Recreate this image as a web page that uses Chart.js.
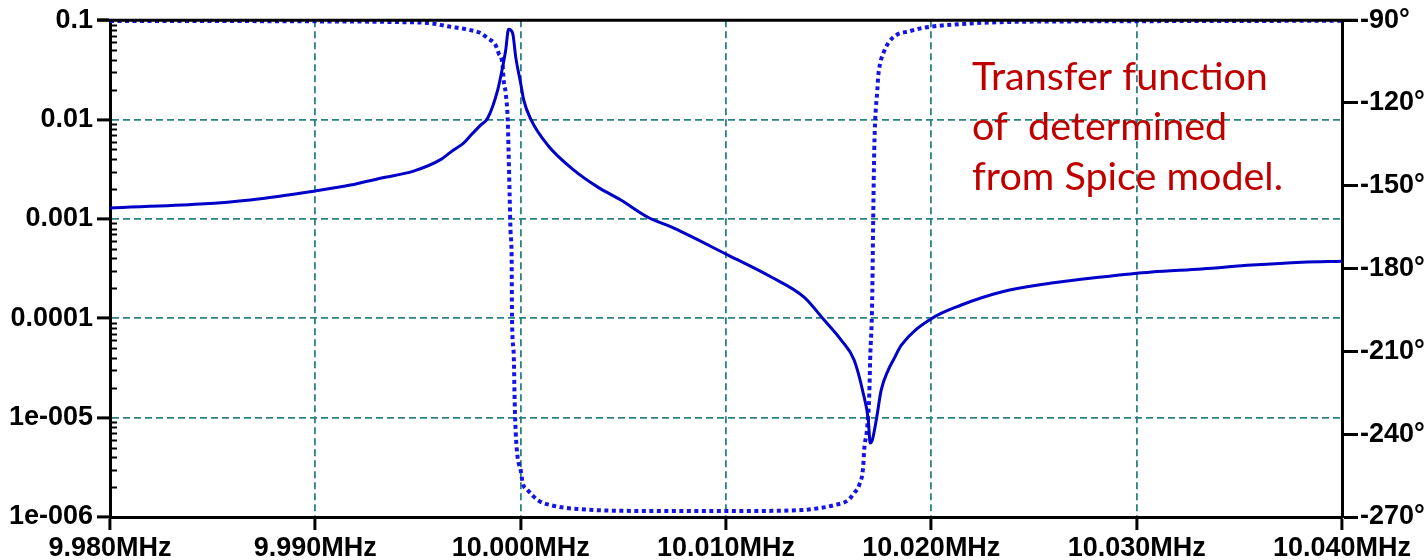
<!DOCTYPE html>
<html>
<head>
<meta charset="utf-8">
<script src="https://cdn.jsdelivr.net/npm/chart.js@4.4.0/dist/chart.umd.min.js"></script>
<style>
	html, body { margin: 0; padding: 0; background: #fff; }
	canvas { display: block; }
</style>
</head>
<body>
<canvas id="chart" width="1428" height="560"></canvas>
<script>
// magnitude trace (solid)
const mag_freq = [
	9.98000, 9.98439, 9.98683, 9.99000, 9.99171, 9.99317, 9.99478, 9.99610, 9.99673, 9.99722,
	9.99756, 9.99805, 9.99839, 9.99888, 9.99912, 9.99927, 9.99941, 9.99961, 9.99976, 10.00000,
	10.00015, 10.00049, 10.00132, 10.00259, 10.00376, 10.00488, 10.00620, 10.00746, 10.01010, 10.01220,
	10.01380, 10.01478, 10.01561, 10.01624, 10.01668, 10.01693, 10.01702, 10.01712, 10.01732, 10.01756,
	10.01790, 10.01815, 10.01854, 10.02000, 10.02146, 10.02341, 10.02585, 10.02829, 10.03073, 10.03317,
	10.03561, 10.03805, 10.04000
];
const mag_values = [
	1.29e-3, 1.41e-3, 1.55e-3, 1.91e-3, 2.19e-3, 2.57e-3, 3.03e-3, 3.95e-3, 4.95e-3, 5.79e-3,
	6.9e-3, 8.79e-3, 1.03e-2, 1.98e-2, 3.37e-2, 4.99e-2, 8.1e-2, 7.4e-2, 4.25e-2, 2.32e-2,
	1.57e-2, 1.01e-2, 5.52e-3, 3.10e-3, 2.09e-3, 1.55e-3, 1.04e-3, 8.07e-4, 4.32e-4, 2.60e-4,
	1.63e-4, 9.6e-5, 6.04e-5, 3.80e-5, 1.77e-5, 9.5e-6, 5.55e-6, 5.9e-6, 9.5e-6, 1.90e-5,
	3.01e-5, 3.80e-5, 5.37e-5, 9.9e-5, 1.36e-4, 1.84e-4, 2.26e-4, 2.60e-4, 2.92e-4, 3.13e-4,
	3.43e-4, 3.67e-4, 3.76e-4
];

// phase trace (dotted), degrees
const phase_freq = [
	9.98000, 9.98927, 9.99415, 9.99561, 9.99644, 9.99756, 9.99805, 9.99839, 9.99878, 9.99893,
	9.99912, 9.99917, 9.99927, 9.99937, 9.99941, 9.99946, 9.99951, 9.99956, 9.99958, 9.99966,
	9.99971, 9.99976, 9.99985, 10.00000, 10.00010, 10.00034, 10.00083, 10.00146, 10.00278, 10.00634,
	10.01122, 10.01366, 10.01463, 10.01527, 10.01595, 10.01624, 10.01649, 10.01668, 10.01673, 10.01688,
	10.01698, 10.01702, 10.01712, 10.01717, 10.01722, 10.01727, 10.01737, 10.01741, 10.01751, 10.01766,
	10.01790, 10.01829, 10.01893, 10.01951, 10.02015, 10.02341, 10.02829, 10.04000
];
const phase_values = [
	-90.25, -90.4, -90.7, -91.1, -92.2, -93.6, -94.7, -96.5, -99.1, -102.0,
	-106.3, -111.7, -116.4, -126.2, -137.1, -152.7, -167.1, -175.8, -198.7, -210.6,
	-228.7, -239.6, -248.3, -253.0, -257.7, -260.2, -263.9, -265.7, -267.1, -267.8,
	-267.8, -267.5, -266.7, -265.7, -263.9, -261.3, -258.4, -251.9, -245.7, -237.4,
	-225.1, -213.1, -191.4, -161.4, -137.1, -125.5, -115.4, -110.6, -105.6, -102.0,
	-98.3, -95.4, -94.0, -92.9, -92.2, -90.7, -90.4, -90.2
];

const x_ticks = [9.98, 9.99, 10.00, 10.01, 10.02, 10.03, 10.04];
const x_tick_labels = ["9.980MHz", "9.990MHz", "10.000MHz", "10.010MHz", "10.020MHz", "10.030MHz", "10.040MHz"];
const mag_ticks = [1e-6, 1e-5, 1e-4, 1e-3, 1e-2, 1e-1];
const mag_tick_labels = ["1e-006", "1e-005", "0.0001", "0.001", "0.01", "0.1"];
const phase_ticks = [-270, -240, -210, -180, -150, -120, -90];
const phase_tick_labels = ["-270°", "-240°", "-210°", "-180°", "-150°", "-120°", "-90°"];
const note_lines = ["Transfer function", "of  determined", "from Spice model."];

const axis_font = { family: "'Liberation Sans', Arial, sans-serif", size: 27, weight: "bold" };
const grid_teal = "#2a8282";

const to_points = (xs, ys) => xs.map((x, i) => ({ x: x, y: ys[i] }));
const set_ticks = (values) => (scale) => { scale.ticks = values.map(v => ({ value: v })); };

// frame top, minor log ticks and the red note
const extras = {
	id: "extras",
	afterDraw(chart) {
		const { ctx, chartArea: a, scales } = chart;
		ctx.save();
		ctx.strokeStyle = "#000";
		ctx.lineWidth = 3;
		ctx.beginPath();
		ctx.moveTo(a.left - 13, a.top);
		ctx.lineTo(a.right + 16, a.top);
		ctx.stroke();

		ctx.lineWidth = 2;
		mag_ticks.slice(0, -1).forEach(decade => {
			for (let m = 2; m <= 9; m++) {
				const py = Math.round(scales.mag.getPixelForValue(decade * m)) + 0.5;
				ctx.beginPath();
				ctx.moveTo(a.left, py);
				ctx.lineTo(a.left + 7, py);
				ctx.stroke();
			}
		});

		ctx.fillStyle = "#c00000";
		ctx.font = "39.5px Lato, 'Open Sans', sans-serif";
		ctx.textBaseline = "alphabetic";
		note_lines.forEach((t, i) => ctx.fillText(t, 972, 90 + i * 50));
		ctx.restore();
	}
};

const ctx = document.getElementById("chart");
new Chart(ctx, {
	type: "scatter",
	data: {
		datasets: [
			{
				label: "magnitude",
				data: to_points(mag_freq, mag_values),
				yAxisID: "mag",
				showLine: true,
				borderColor: "#0000c8",
				borderWidth: 3,
				pointRadius: 0,
				cubicInterpolationMode: "monotone"
			},
			{
				label: "phase",
				data: to_points(phase_freq, phase_values),
				yAxisID: "phase",
				showLine: true,
				borderColor: "#1414e6",
				borderWidth: 4,
				borderDash: [4, 3.5],
				pointRadius: 0,
				cubicInterpolationMode: "monotone"
			}
		]
	},
	options: {
		responsive: false,
		animation: false,
		devicePixelRatio: 1,
		layout: { padding: { top: 20, left: 0, right: 0, bottom: 0 } },
		plugins: { legend: { display: false }, tooltip: { enabled: false } },
		scales: {
			x: {
				type: "linear",
				min: 9.98,
				max: 10.04,
				afterBuildTicks: set_ticks(x_ticks),
				afterFit: scale => { scale.height = 43; },
				ticks: {
					autoSkip: false,
					maxRotation: 0,
					padding: 2,
					color: "#000",
					font: axis_font,
					callback: (v, i) => x_tick_labels[i]
				},
				grid: {
					color: grid_teal,
					lineWidth: 1.8,
					tickLength: 13,
					tickColor: "#000",
					tickWidth: 3,
					tickBorderDash: []
				},
				border: { display: true, color: "#000", width: 3, dash: [7, 4] }
			},
			mag: {
				type: "logarithmic",
				position: "left",
				min: 1e-6,
				max: 0.1,
				afterBuildTicks: set_ticks(mag_ticks),
				afterFit: scale => { scale.width = 110; },
				ticks: {
					autoSkip: false,
					padding: 4,
					color: "#000",
					font: axis_font,
					callback: (v, i) => mag_tick_labels[i]
				},
				grid: {
					color: grid_teal,
					lineWidth: 1.8,
					tickLength: 13,
					tickColor: "#000",
					tickWidth: 3,
					tickBorderDash: []
				},
				border: { display: true, color: "#000", width: 3, dash: [7, 4] }
			},
			phase: {
				type: "linear",
				position: "right",
				min: -270,
				max: -90,
				afterBuildTicks: set_ticks(phase_ticks),
				afterFit: scale => { scale.width = 86; },
				ticks: {
					autoSkip: false,
					padding: 2,
					color: "#000",
					font: axis_font,
					callback: (v, i) => phase_tick_labels[i]
				},
				grid: {
					drawOnChartArea: false,
					tickLength: 16,
					tickColor: "#000",
					tickWidth: 3
				},
				border: { display: true, color: "#000", width: 3 }
			}
		}
	},
	plugins: [extras]
});
</script>
</body>
</html>
